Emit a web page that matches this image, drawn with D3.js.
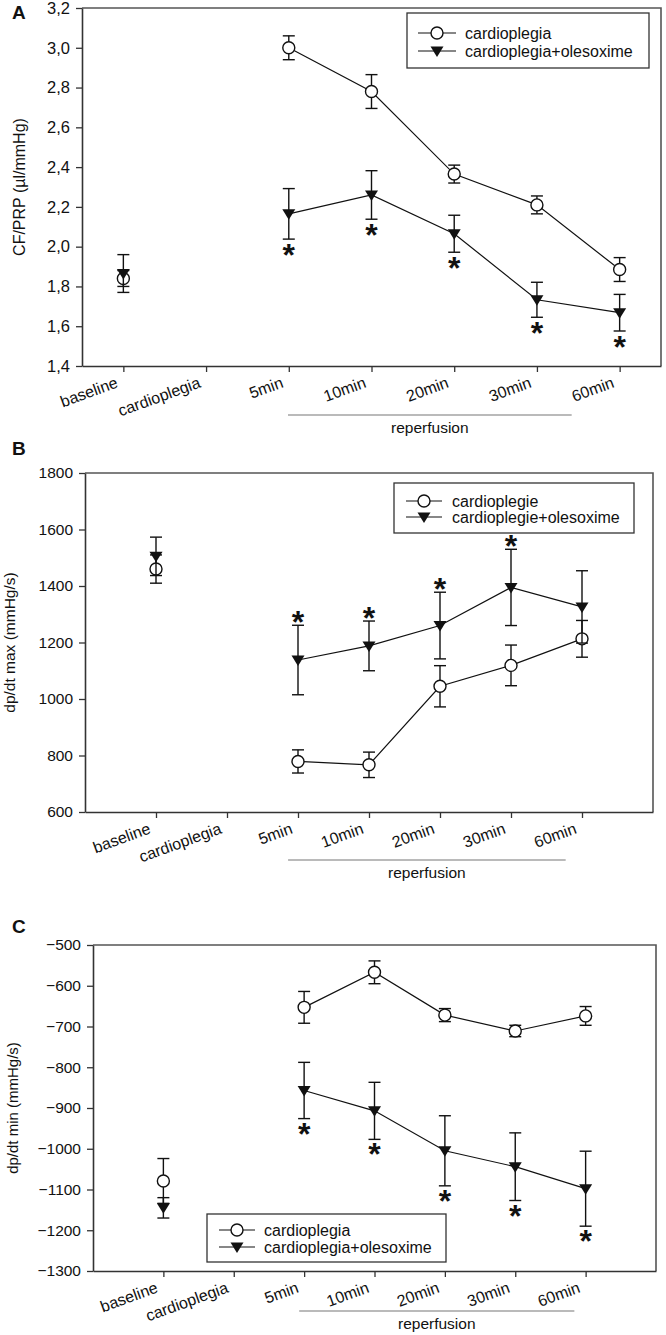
<!DOCTYPE html>
<html>
<head>
<meta charset="utf-8">
<script src="https://cdn.jsdelivr.net/npm/d3@7"></script>
<style>
	body { margin: 0; background: #fff; }
	text { font-family: "Liberation Sans", Arial, sans-serif; fill: #111; }
</style>
</head>
<body>
<div id="chart"></div>
<script>
// time points shared by the three panels
const categories = ["baseline", "cardioplegia", "5min", "10min", "20min", "30min", "60min"];

// A : CF/PRP
const cfTicks = [1.4, 1.6, 1.8, 2.0, 2.2, 2.4, 2.6, 2.8, 3.0, 3.2];
const cfCardio = [1.84, null, 3.00, 2.78, 2.365, 2.21, 1.885];
const cfCardioErr = [0.04, null, 0.06, 0.085, 0.045, 0.045, 0.06];
const cfOleso = [1.865, null, 2.165, 2.26, 2.065, 1.733, 1.668];
const cfOlesoErr = [0.095, null, 0.127, 0.122, 0.093, 0.088, 0.092];
const cfStars = [0, 0, 1, 1, 1, 1, 1];

// B : dp/dt max
const maxTicks = [600, 800, 1000, 1200, 1400, 1600, 1800];
const maxCardio = [1460, null, 779, 767, 1045, 1119, 1213];
const maxCardioErr = [50, null, 41, 45, 73, 72, 65];
const maxOleso = [1505, null, 1138, 1188, 1260, 1395, 1326];
const maxOlesoErr = [68, null, 123, 88, 118, 135, 128];
const maxStars = [0, 0, 1, 1, 1, 1, 0];

// C : dp/dt min
const minTicks = [-1300, -1200, -1100, -1000, -900, -800, -700, -600, -500];
const minCardio = [-1079, null, -653, -567, -672, -711, -674];
const minCardioErr = [55, null, 39, 28, 16, 14, 23];
const minOleso = [-1145, null, -857, -907, -1005, -1044, -1098];
const minOlesoErr = [25, null, 69, 70, 86, 83, 92];
const minStars = [0, 0, 1, 1, 1, 1, 1];

const legendA = ["cardioplegia", "cardioplegia+olesoxime"];
const legendB = ["cardioplegie", "cardioplegie+olesoxime"];
const yTitles = ["CF/PRP (µl/mmHg)", "dp/dt max (mmHg/s)", "dp/dt min (mmHg/s)"];
const panelLetters = ["A", "B", "C"];

const W = 666, H = 1335;
const svg = d3.select("#chart").append("svg")
	.attr("width", W)
	.attr("height", H);

const commaFmt = d => d3.format(".1f")(d).replace(".", ",");

const panels = [
	{
		letter: panelLetters[0], title: yTitles[0], legend: legendA,
		left: 82, right: 661, top: 8, bottom: 366, pad: 0.5,
		domain: [1.4, 3.2], ticks: cfTicks, fmt: commaFmt, tickFont: 16.5,
		a: cfCardio, aErr: cfCardioErr, b: cfOleso, bErr: cfOlesoErr,
		stars: cfStars, starDir: 1, starGap: 11.5,
		titleX: 25, titleFont: 16,
		leg: { x0: 407, x1: 649, y0: 13, y1: 68, rows: [33, 51], lx0: 418, lx1: 456, tx: 465 },
		rep: { a: -0.01, b: 0.42, y: 415, ty: 433 },
		letterY: 19
	},
	{
		letter: panelLetters[1], title: yTitles[1], legend: legendB,
		left: 85, right: 653, top: 473, bottom: 812, pad: 1,
		domain: [600, 1800], ticks: maxTicks, fmt: d3.format("d"), tickFont: 15.5,
		a: maxCardio, aErr: maxCardioErr, b: maxOleso, bErr: maxOlesoErr,
		stars: maxStars, starDir: -1, starGap: 8,
		titleX: 15, titleFont: 15.5,
		leg: { x0: 394, x1: 634, y0: 483, y1: 533, rows: [501, 517], lx0: 406, lx1: 442, tx: 452 },
		rep: { a: -0.14, b: 0.77, y: 860, ty: 878 },
		letterY: 455
	},
	{
		letter: panelLetters[2], title: yTitles[2], legend: legendA,
		left: 93, right: 656, top: 945, bottom: 1271, pad: 1,
		domain: [-1300, -500], ticks: minTicks, fmt: d3.format("d"), tickFont: 15.5,
		a: minCardio, aErr: minCardioErr, b: minOleso, bErr: minOlesoErr,
		stars: minStars, starDir: 1, starGap: 10.5,
		titleX: 18, titleFont: 15,
		leg: { x0: 207, x1: 446, y0: 1214, y1: 1262, rows: [1230, 1247], lx0: 219, lx1: 255, tx: 264 },
		rep: { a: -0.07, b: 0.84, y: 1311, ty: 1329 },
		letterY: 933
	}
];

const triPath = "M-6.5,-4.5L6.5,-4.5L0,6Z";

function drawMarker(sel, kind) {
	if (kind === "circle") {
		sel.append("circle").attr("r", 6)
			.attr("fill", "#fff").attr("stroke", "#111").attr("stroke-width", 1.4);
	} else {
		sel.append("path").attr("d", triPath).attr("fill", "#111");
	}
}

function drawSeries(g, x, y, values, errs, kind) {
	const pts = categories.map((c, i) => ({ c: c, v: values[i], e: errs[i] }))
		.filter(d => d.v != null);

	// error bars
	const eb = g.append("g").attr("stroke", "#111").attr("stroke-width", 1.4);
	pts.forEach(d => {
		const cx = x(d.c), y0 = y(d.v - d.e), y1 = y(d.v + d.e);
		eb.append("line").attr("x1", cx).attr("x2", cx).attr("y1", y0).attr("y2", y1);
		eb.append("line").attr("x1", cx - 6).attr("x2", cx + 6).attr("y1", y0).attr("y2", y0);
		eb.append("line").attr("x1", cx - 6).attr("x2", cx + 6).attr("y1", y1).attr("y2", y1);
	});

	const line = d3.line()
		.defined(d => d.v != null)
		.x(d => x(d.c))
		.y(d => y(d.v));
	g.append("path")
		.datum(categories.map((c, i) => ({ c: c, v: values[i] })))
		.attr("d", line)
		.attr("fill", "none")
		.attr("stroke", "#111")
		.attr("stroke-width", 1.2);

	g.selectAll(null).data(pts).enter().append("g")
		.attr("transform", d => "translate(" + x(d.c) + "," + y(d.v) + ")")
		.each(function () { drawMarker(d3.select(this), kind); });
}

function drawPanel(p) {
	const g = svg.append("g");
	const x = d3.scalePoint().domain(categories).range([p.left, p.right]).padding(p.pad);
	const y = d3.scaleLinear().domain(p.domain).range([p.bottom, p.top]);

	// frame (top + right)
	g.append("path")
		.attr("d", "M" + p.left + "," + p.top + "H" + p.right + "V" + p.bottom)
		.attr("fill", "none").attr("stroke", "#555").attr("stroke-width", 1.6);

	// y axis
	const ya = g.append("g")
		.attr("transform", "translate(" + p.left + ",0)")
		.call(d3.axisLeft(y).tickValues(p.ticks).tickFormat(p.fmt).tickSize(6).tickSizeOuter(0).tickPadding(6));
	ya.selectAll("text").style("font-size", p.tickFont + "px").style("font-family", null);

	// x axis
	const xa = g.append("g")
		.attr("transform", "translate(0," + p.bottom + ")")
		.call(d3.axisBottom(x).tickSize(6).tickSizeOuter(0));
	xa.selectAll("text")
		.style("font-size", "16px").style("font-family", null)
		.attr("y", null).attr("dy", null)
		.attr("text-anchor", "end")
		.attr("transform", "translate(-5,21) rotate(-20)");
	[ya, xa].forEach(a => {
		a.select(".domain").attr("stroke", "#333").attr("stroke-width", 1.6);
		a.selectAll(".tick line").attr("stroke", "#333").attr("stroke-width", 1.3);
	});

	drawSeries(g, x, y, p.a, p.aErr, "circle");
	drawSeries(g, x, y, p.b, p.bErr, "triangle");

	// significance stars
	categories.forEach((c, i) => {
		if (!p.stars[i]) return;
		const cap = p.starDir > 0 ? y(p.b[i] - p.bErr[i]) : y(p.b[i] + p.bErr[i]);
		const cy = cap + p.starDir * p.starGap;
		g.append("text")
			.attr("x", x(c)).attr("y", cy + 15.5)
			.attr("text-anchor", "middle")
			.style("font-size", "32px").style("font-weight", "bold")
			.text("*");
	});

	// y title
	g.append("text")
		.attr("transform", "translate(" + p.titleX + "," + ((p.top + p.bottom) / 2) + ") rotate(-90)")
		.attr("text-anchor", "middle")
		.style("font-size", p.titleFont + "px")
		.text(p.title);

	// panel letter
	g.append("text")
		.attr("x", 12).attr("y", p.letterY)
		.style("font-size", "19px").style("font-weight", "bold")
		.text(p.letter);

	// reperfusion bracket
	const step = x.step();
	const rx0 = x("5min") + p.rep.a * step, rx1 = x("30min") + p.rep.b * step;
	g.append("line")
		.attr("x1", rx0).attr("x2", rx1).attr("y1", p.rep.y).attr("y2", p.rep.y)
		.attr("stroke", "#777").attr("stroke-width", 1.2);
	g.append("text")
		.attr("x", (rx0 + rx1) / 2).attr("y", p.rep.ty)
		.attr("text-anchor", "middle")
		.style("font-size", "15.5px")
		.text("reperfusion");

	// legend
	const L = p.leg;
	const lg = g.append("g");
	lg.append("rect")
		.attr("x", L.x0).attr("y", L.y0)
		.attr("width", L.x1 - L.x0).attr("height", L.y1 - L.y0)
		.attr("fill", "#fff").attr("stroke", "#333").attr("stroke-width", 1.3);
	["circle", "triangle"].forEach((kind, i) => {
		const ry = L.rows[i];
		lg.append("line")
			.attr("x1", L.lx0).attr("x2", L.lx1).attr("y1", ry).attr("y2", ry)
			.attr("stroke", "#111").attr("stroke-width", 1.2);
		drawMarker(lg.append("g").attr("transform", "translate(" + ((L.lx0 + L.lx1) / 2) + "," + ry + ")"), kind);
		lg.append("text")
			.attr("x", L.tx).attr("y", ry).attr("dy", "0.35em")
			.style("font-size", "16px")
			.text(p.legend[i]);
	});
}

panels.forEach(drawPanel);
</script>
</body>
</html>
